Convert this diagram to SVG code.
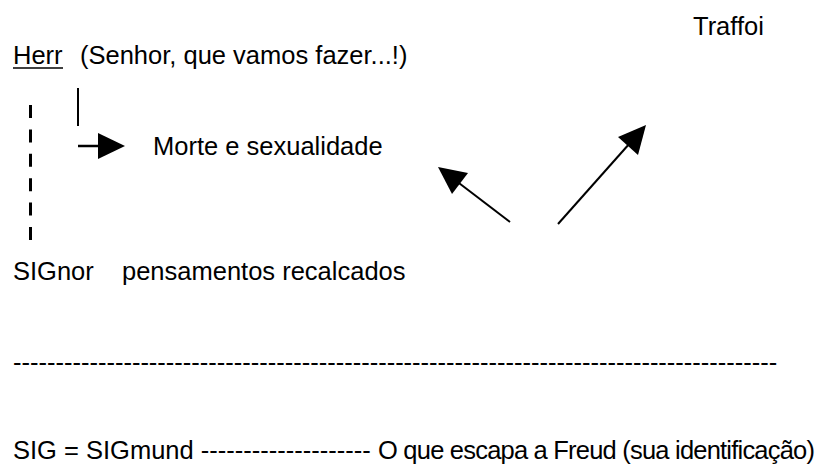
<svg xmlns="http://www.w3.org/2000/svg" width="830" height="468" viewBox="0 0 830 468">
  <style>
    text { font-family: "Liberation Sans", Arial, sans-serif; font-size: 25.5px; fill: #000; }
    .ln { stroke: #000; fill: none; }
  </style>
  <rect width="830" height="468" fill="#fff"/>

  <g id="traffoi"><text x="693" y="35">Traffoi</text></g>
  <g id="herr">
    <text x="13" y="64">Herr</text>
    <line class="ln" x1="13" y1="68" x2="63" y2="68" stroke-width="1.5"/>
    <text x="80" y="64">(Senhor, que vamos fazer...!)</text>
  </g>
  <g id="morte"><text x="153" y="155">Morte e sexualidade</text></g>
  <g id="signor">
    <text x="13" y="280">SIGnor</text>
    <text x="122" y="280">pensamentos recalcados</text>
  </g>
  <g id="separator"><text x="13" y="371">------------------------------------------------------------------------------------------</text></g>
  <g id="sigmund">
    <text x="13" y="459">SIG = SIGmund --------------------</text>
    <text x="378" y="459" textLength="437" lengthAdjust="spacing">O que escapa a Freud (sua identificação)</text>
  </g>

  <g id="connectors">
    <line class="ln" x1="78" y1="88" x2="78" y2="126" stroke-width="2"/>
    <line class="ln" x1="30.5" y1="105" x2="30.5" y2="240" stroke-width="3" stroke-dasharray="13 11.4"/>
    <line class="ln" x1="78" y1="146" x2="100" y2="146" stroke-width="2.5"/>
    <polygon points="98,133 125,146 98,159" fill="#000"/>
    <line class="ln" x1="510" y1="222" x2="455" y2="180" stroke-width="2"/>
    <polygon points="438,167 468,173 452,194" fill="#000"/>
    <line class="ln" x1="558" y1="224" x2="630" y2="143" stroke-width="2"/>
    <polygon points="646,125 618,137 638,155" fill="#000"/>
  </g>
</svg>
